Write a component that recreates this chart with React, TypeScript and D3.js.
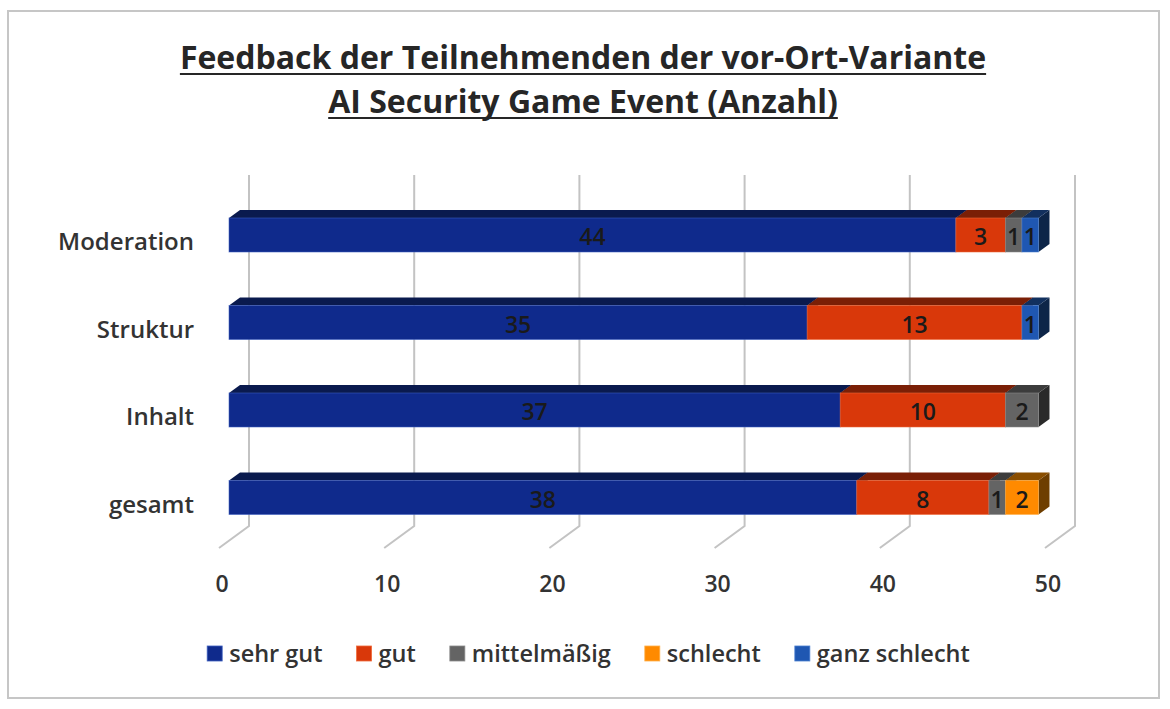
import React, { useEffect, useRef } from 'react';
import * as d3 from 'd3';

const categories = ['Moderation', 'Struktur', 'Inhalt', 'gesamt'];
const seriesNames = ['sehr gut', 'gut', 'mittelmäßig', 'schlecht', 'ganz schlecht'];
const sehrGut = [44, 35, 37, 38];
const gut = [3, 13, 10, 8];
const mittelmaessig = [1, 0, 2, 1];
const schlecht = [0, 0, 0, 2];
const ganzSchlecht = [1, 1, 0, 0];
const xTicks = [0, 10, 20, 30, 40, 50];
const titleLines = ['Feedback der Teilnehmenden der vor-Ort-Variante', 'AI Security Game Event (Anzahl)'];

interface Palette {
  front: string;
  top: string;
  side: string;
  edge: string;
}

const palettes: Palette[] = [
  { front: '#0F2A8C', top: '#0A1A4E', side: '#08163F', edge: '#3E5FC0' },
  { front: '#D9380A', top: '#7A1F06', side: '#6A1A05', edge: '#F06A3A' },
  { front: '#646464', top: '#3C3C3C', side: '#2A2A2A', edge: '#8A8A8A' },
  { front: '#FF8A00', top: '#8A4E00', side: '#6E3E00', edge: '#FFB04A' },
  { front: '#1F57B2', top: '#12305E', side: '#0D2548', edge: '#4A7FD0' },
];

const W = 1170;
const H = 709;
const FONT = '"Open Sans", Lato, sans-serif';
const TEXT = '#333333';
const LABEL_WEIGHT = 600;

const App: React.FC = () => {
  const svgRef = useRef<SVGSVGElement>(null);

  useEffect(() => {
    if (!svgRef.current) return;
    const svg = d3.select(svgRef.current);
    svg.selectAll('*').remove();

    // chart frame
    svg.append('rect')
      .attr('x', 8).attr('y', 11)
      .attr('width', 1151).attr('height', 687)
      .attr('fill', '#fff')
      .attr('stroke', '#c6c6c6')
      .attr('stroke-width', 2);

    // title
    const title = svg.append('g');
    titleLines.forEach((line, i) => {
      const t = title.append('text')
        .attr('x', 583)
        .attr('y', 69 + i * 44)
        .attr('text-anchor', 'middle')
        .attr('font-family', FONT)
        .attr('font-weight', 700)
        .attr('font-size', 32)
        .attr('fill', '#262626')
        .text(line);
      const bb = (t.node() as SVGTextElement).getBBox();
      title.append('line')
        .attr('x1', bb.x).attr('x2', bb.x + bb.width)
        .attr('y1', 69 + i * 44 + 5).attr('y2', 69 + i * 44 + 5)
        .attr('stroke', '#262626')
        .attr('stroke-width', 2.2);
    });

    // pseudo-3D geometry
    const x = d3.scaleLinear().domain([0, 50]).range([229, 1055]);
    const y = d3.scalePoint<string>().domain(categories).range([235, 497.5]);
    const barH = 34;
    const depth = { dx: 11, dy: -8 };
    const floorFront = { dx: -10, y: 548 };
    const floorBack = { dx: 20, y: 526 };
    const wallTop = 175;

    // grid: back wall verticals + floor diagonals
    const grid = svg.append('g')
      .attr('stroke', '#c3c3c3')
      .attr('stroke-width', 2)
      .attr('fill', 'none');
    xTicks.forEach(v => {
      const path = d3.path();
      path.moveTo(x(v) + floorBack.dx, wallTop);
      path.lineTo(x(v) + floorBack.dx, floorBack.y);
      path.lineTo(x(v) + floorFront.dx, floorFront.y);
      grid.append('path').attr('d', path.toString());
    });

    // x tick labels
    svg.append('g')
      .selectAll('text')
      .data(xTicks)
      .join('text')
      .attr('x', d => x(d) - 7)
      .attr('y', 592)
      .attr('text-anchor', 'middle')
      .attr('font-family', FONT)
      .attr('font-weight', LABEL_WEIGHT)
      .attr('font-size', 23)
      .attr('fill', TEXT)
      .text(d => d);

    // category labels (sit a little below the bar centre, like the original)
    svg.append('g')
      .selectAll('text')
      .data(categories)
      .join('text')
      .attr('x', 194)
      .attr('y', d => (y(d) ?? 0) + 15)
      .attr('text-anchor', 'end')
      .attr('font-family', FONT)
      .attr('font-weight', LABEL_WEIGHT)
      .attr('font-size', 24)
      .attr('fill', TEXT)
      .text(d => d);

    // stacked data
    const rows = categories.map((c, i) => ({
      category: c,
      'sehr gut': sehrGut[i],
      gut: gut[i],
      'mittelmäßig': mittelmaessig[i],
      schlecht: schlecht[i],
      'ganz schlecht': ganzSchlecht[i],
    }));
    const stack = d3.stack<any>().keys(seriesNames)(rows);

    const bars = svg.append('g');
    categories.forEach((c, ci) => {
      const yTop = (y(c) ?? 0) - barH / 2;
      const yBot = yTop + barH;
      stack.forEach((layer, si) => {
        const [v0, v1] = layer[ci];
        if (v1 - v0 <= 0) return;
        const p = palettes[si];
        const x0 = x(v0);
        const x1 = x(v1);
        // side face
        bars.append('path')
          .attr('d', `M${x1},${yTop}L${x1 + depth.dx},${yTop + depth.dy}L${x1 + depth.dx},${yBot + depth.dy}L${x1},${yBot}Z`)
          .attr('fill', p.side);
        // top face
        bars.append('path')
          .attr('d', `M${x0},${yTop}L${x0 + depth.dx},${yTop + depth.dy}L${x1 + depth.dx},${yTop + depth.dy}L${x1},${yTop}Z`)
          .attr('fill', p.top);
        // front face
        bars.append('rect')
          .attr('x', x0).attr('y', yTop)
          .attr('width', x1 - x0).attr('height', barH)
          .attr('fill', p.front)
          .attr('stroke', p.edge)
          .attr('stroke-width', 0.8)
          .attr('stroke-opacity', 0.7);
      });
      // value labels
      stack.forEach(layer => {
        const [v0, v1] = layer[ci];
        if (v1 - v0 <= 0) return;
        bars.append('text')
          .attr('x', (x(v0) + x(v1)) / 2)
          .attr('y', yTop + barH / 2 + 10)
          .attr('text-anchor', 'middle')
          .attr('font-family', FONT)
          .attr('font-weight', LABEL_WEIGHT)
          .attr('font-size', 23)
          .attr('fill', '#1a1a1a')
          .text(v1 - v0);
      });
    });

    // legend
    const legend = svg.append('g');
    const sq = 15;
    const gapSq = 7;
    const gapItem = 34;
    let cursor = 0;
    const items = seriesNames.map((name, i) => {
      const g = legend.append('g');
      g.append('rect')
        .attr('x', 0).attr('y', -sq)
        .attr('width', sq).attr('height', sq)
        .attr('fill', palettes[i].front)
        .attr('stroke', palettes[i].edge)
        .attr('stroke-width', 0.8);
      const t = g.append('text')
        .attr('x', sq + gapSq)
        .attr('y', 1)
        .attr('font-family', FONT)
        .attr('font-weight', LABEL_WEIGHT)
        .attr('font-size', 23.5)
        .attr('fill', TEXT)
        .text(name);
      const w = sq + gapSq + (t.node() as SVGTextElement).getComputedTextLength();
      return { g, w };
    });
    items.forEach(it => {
      it.g.attr('transform', `translate(${cursor},0)`);
      cursor += it.w + gapItem;
    });
    const total = cursor - gapItem;
    legend.attr('transform', `translate(${588.5 - total / 2},661)`);
  }, []);

  return (
    <div style={{ position: 'absolute', left: 0, top: 0, width: W, height: H, background: '#fff' }}>
      <svg ref={svgRef} width={W} height={H} viewBox={`0 0 ${W} ${H}`} />
    </div>
  );
};

export default App;
